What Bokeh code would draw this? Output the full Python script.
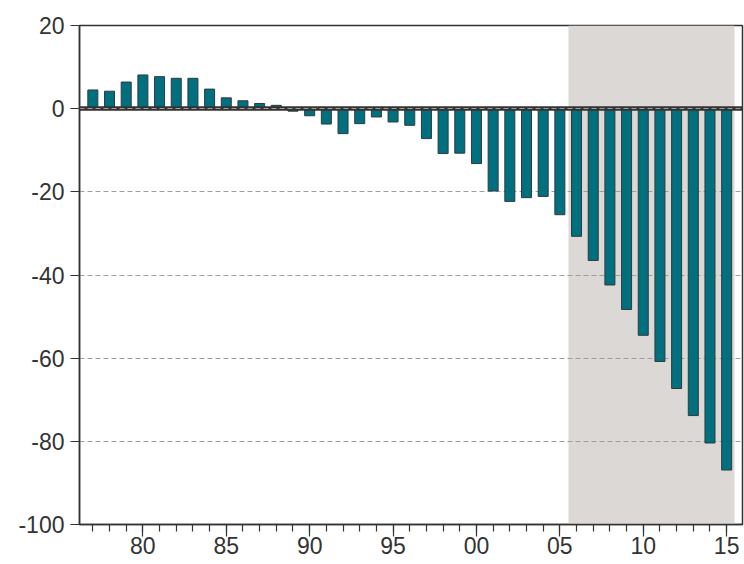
from bokeh.plotting import figure
from bokeh.models import FixedTicker, Range1d
from bokeh.embed import file_html
from bokeh.resources import INLINE

years = list(range(1977, 2016))
values = [4.5, 4.2, 6.4, 8.1, 7.7, 7.3, 7.3, 4.7, 2.6, 1.9, 1.25, 0.8, -0.6,
          -1.7, -3.7, -6.0, -3.6, -2.0, -3.2, -4.0, -7.2, -10.8, -10.7, -13.2,
          -19.8, -22.3, -21.4, -21.1, -25.5, -30.7, -36.5, -42.4, -48.3, -54.5,
          -60.8, -67.3, -73.8, -80.4, -86.9]
shade_start = [2005.5]
shade_end = [2015.5]
x_ticks = [1980, 1985, 1990, 1995, 2000, 2005, 2010, 2015]
x_tick_labels = ["80", "85", "90", "95", "00", "05", "10", "15"]
y_ticks = [20, 0, -20, -40, -60, -80, -100]
y_tick_labels = ["20", "0", "-20", "-40", "-60", "-80", "-100"]
grid_levels = [0, -20, -40, -60, -80]
zero_level = [0]

TXT = "#333333"
p = figure(width=744, height=564, output_backend="svg", toolbar_location=None,
           x_range=Range1d(1976.2, 2015.95), y_range=Range1d(-100, 20),
           min_border_left=79, min_border_right=2, min_border_top=25,
           min_border_bottom=40)
p.background_fill_color = "white"
p.border_fill_color = "white"
p.outline_line_color = TXT
p.outline_line_width = 1.5
p.xgrid.visible = False
p.ygrid.visible = False

p.vstrip(x0=shade_start, x1=shade_end, fill_color="#dcd8d5", line_color=None)
p.hspan(y=grid_levels, line_color="#a59d97", line_width=1, line_dash="5 3")
p.vbar(x=years, top=values, bottom=0, width=0.6, fill_color="#00707e",
       line_color="#2e3a3e", line_width=1)
p.hspan(y=zero_level, line_color="#333333", line_width=4.5)
p.hspan(y=zero_level, line_color="#a59d97", line_width=1, line_dash="5 3")

p.xaxis.ticker = FixedTicker(ticks=x_ticks, minor_ticks=years)
p.xaxis.major_label_overrides = {t: l for t, l in zip(x_ticks, x_tick_labels)}
p.yaxis.ticker = FixedTicker(ticks=y_ticks)
p.yaxis.major_label_overrides = {t: l for t, l in zip(y_ticks, y_tick_labels)}
for ax in (p.xaxis[0], p.yaxis[0]):
    ax.axis_line_color = TXT
    ax.axis_line_width = 1.5
    ax.major_tick_line_color = TXT
    ax.minor_tick_line_color = TXT
    ax.major_tick_line_width = 1.2
    ax.minor_tick_line_width = 1.2
    ax.major_label_text_color = TXT
    ax.major_label_text_font = "Liberation Sans"
    ax.major_label_text_font_size = "23px"
    ax.major_tick_in = 0
    ax.minor_tick_in = 0
p.xaxis.major_tick_out = 12
p.xaxis.minor_tick_out = 7
p.xaxis.major_label_standoff = 0
p.yaxis.major_tick_out = 9
p.yaxis.minor_tick_line_color = None
p.yaxis.major_label_standoff = 6

open("out.html", "w").write(file_html(p, INLINE))
